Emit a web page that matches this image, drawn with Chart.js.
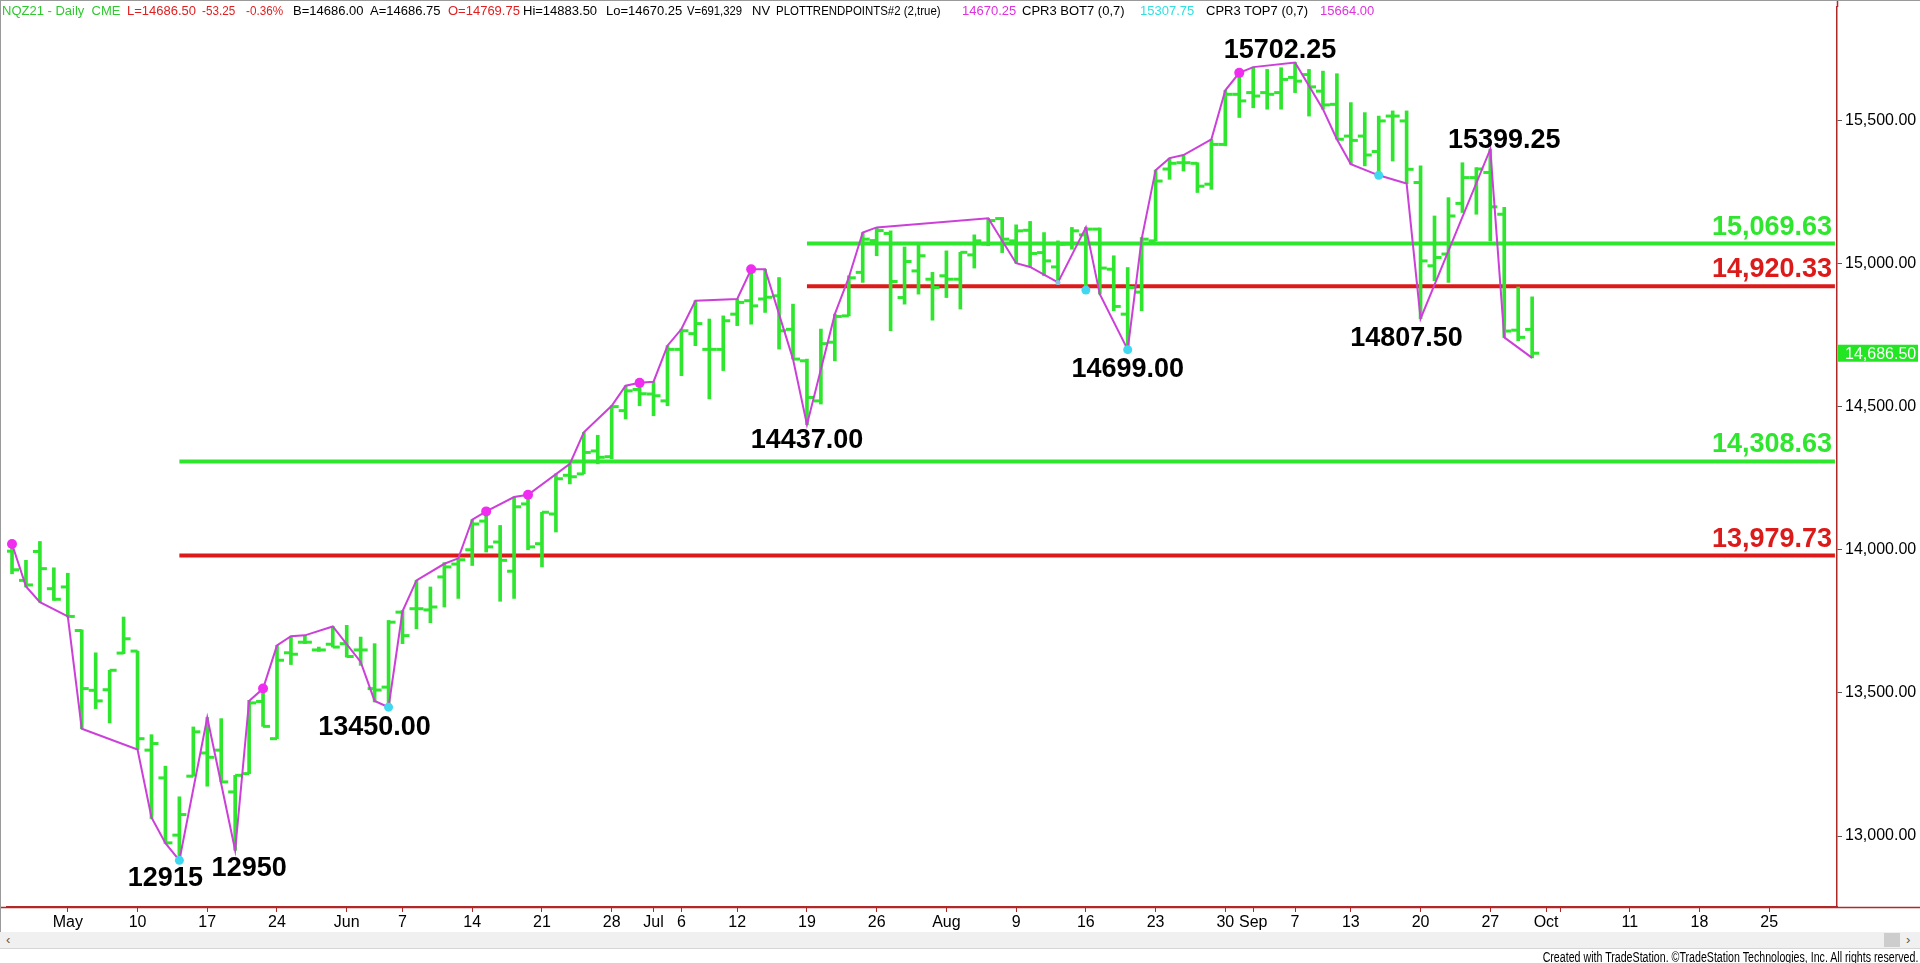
<!DOCTYPE html>
<html>
<head>
<meta charset="utf-8">
<title>NQZ21 Daily</title>
<script src="https://cdn.jsdelivr.net/npm/chart.js@4.4.0/dist/chart.umd.min.js"></script>
<style>
  html, body { margin: 0; padding: 0; background: #fff; }
  #wrap { position: relative; width: 1920px; height: 963px; overflow: hidden; font-family: 'Liberation Sans', Arial, sans-serif; }
  #chart { position: absolute; left: 0; top: 0; }
  .hd { position: absolute; top: 3px; font-size: 13px; line-height: 15px; white-space: nowrap; color: #000; transform-origin: left center; }
  .n1 { transform: scaleX(0.88); } .n2 { transform: scaleX(0.87); } .n3 { transform: scaleX(0.9); }
  .g { color: #2fc92f; } .r { color: #e02020; } .m { color: #e030e0; } .c { color: #30e0e0; }
  #scroll { position: absolute; left: 0; top: 932px; width: 1920px; height: 16px; background: #f0f0f0; border-bottom: 1px solid #d6d6d6; }
  #thumb { position: absolute; left: 1884px; top: 1px; width: 16px; height: 14px; background: #cdcdcd; }
  .arr { position: absolute; top: 0; font-size: 13px; line-height: 16px; color: #555; }
  #foot { position: absolute; right: 2px; top: 950px; font-size: 14px; line-height: 14px; white-space: nowrap; color: #000; transform: scaleX(0.76); transform-origin: right center; }
  #lborder { position: absolute; left: 0; top: 0; width: 1px; height: 948px; background: #9a9a9a; }
  #tborder { position: absolute; left: 0; top: 0; width: 1920px; height: 1px; background: #9a9a9a; }
</style>
</head>
<body>
<div id="wrap">
  <canvas id="chart" width="1920" height="963"></canvas>
  <div id="tborder"></div>
  <div id="lborder"></div>
  <span class="hd g" style="left:2px">NQZ21 - Daily&nbsp; CME</span>
  <span class="hd r" style="left:127px">L=14686.50</span>
  <span class="hd r n3" style="left:202px">-53.25</span>
  <span class="hd r n3" style="left:246px">-0.36%</span>
  <span class="hd" style="left:293px">B=14686.00</span>
  <span class="hd" style="left:370px">A=14686.75</span>
  <span class="hd r" style="left:448px">O=14769.75</span>
  <span class="hd" style="left:523px">Hi=14883.50</span>
  <span class="hd" style="left:606px">Lo=14670.25</span>
  <span class="hd n2" style="left:687px">V=691,329</span>
  <span class="hd" style="left:752px">NV</span>
  <span class="hd n1" style="left:776px">PLOTTRENDPOINTS#2 (2,true)</span>
  <span class="hd m" style="left:962px">14670.25</span>
  <span class="hd" style="left:1022px">CPR3 BOT7 (0,7)</span>
  <span class="hd c" style="left:1140px">15307.75</span>
  <span class="hd" style="left:1206px">CPR3 TOP7 (0,7)</span>
  <span class="hd m" style="left:1320px">15664.00</span>
  <div id="scroll">
    <span class="arr" style="left:6px">&lsaquo;</span>
    <div id="thumb"></div>
    <span class="arr" style="left:1906px">&rsaquo;</span>
  </div>
  <div id="foot">Created with TradeStation. &copy;TradeStation Technologies, Inc. All rights reserved.</div>
</div>
<script>
// trading days shown on the chart (holidays skipped)
const days = [
  'Apr 27','Apr 28','Apr 29','Apr 30',
  'May 3','May 4','May 5','May 6','May 7','May 10','May 11','May 12','May 13','May 14',
  'May 17','May 18','May 19','May 20','May 21','May 24','May 25','May 26','May 27','May 28',
  'Jun 1','Jun 2','Jun 3','Jun 4','Jun 7','Jun 8','Jun 9','Jun 10','Jun 11','Jun 14','Jun 15',
  'Jun 16','Jun 17','Jun 18','Jun 21','Jun 22','Jun 23','Jun 24','Jun 25','Jun 28','Jun 29','Jun 30',
  'Jul 1','Jul 2','Jul 6','Jul 7','Jul 8','Jul 9','Jul 12','Jul 13','Jul 14','Jul 15','Jul 16',
  'Jul 19','Jul 20','Jul 21','Jul 22','Jul 23','Jul 26','Jul 27','Jul 28','Jul 29','Jul 30',
  'Aug 2','Aug 3','Aug 4','Aug 5','Aug 6','Aug 9','Aug 10','Aug 11','Aug 12','Aug 13',
  'Aug 16','Aug 17','Aug 18','Aug 19','Aug 20','Aug 23','Aug 24','Aug 25','Aug 26','Aug 27','Aug 30','Aug 31',
  'Sep 1','Sep 2','Sep 3','Sep 7','Sep 8','Sep 9','Sep 10','Sep 13','Sep 14','Sep 15','Sep 16','Sep 17',
  'Sep 20','Sep 21','Sep 22','Sep 23','Sep 24','Sep 27','Sep 28','Sep 29','Sep 30'
];

const open = [
  13995,13893,13994,13864,13870,13718,13509,13511,13639,13646,13300,13203,13003,13209,
  13290,13300,13154,13218,13470,13340,13640,13677,13650,13670,13672,13650,13515,13520,13782,13794,
  13790,13905,13950,14000,14100,14027,13925,14160,14021,14125,14260,14265,14345,14325,14486,14560,
  14544,14520,14700,14755,14700,14700,14823,14870,14876,14887,14770,14660,14520,14725,14817,14969,
  15080,15105,14881,14974,14945,14957,14945,15030,15068,15157,15079,15116,15038,14988,15068,15100,
  15120,14980,14823,14900,15079,15330,15352,15350,15277,15416,15591,15597,15597,15597,15650,15660,
  15602,15556,15445,15445,15391,15515,15498,15283,14992,15033,15210,15300,15318,15172,14767,14769.75
];
const high = [
  14022,13963,14029,13937,13918,13720,13640,13579,13765,13646,13354,13244,13137,13381,
  13414,13410,13212,13474,13515,13666,13698,13701,13660,13732,13736,13695,13672,13753,13788,13893,
  13870,13955,13970,14105,14134,14085,14184,14192,14131,14265,14300,14410,14400,14503,14573,14583,
  14587,14713,14771,14870,14806,14817,14876,14980,14980,14951,14858,14666,14771,14823,14957,15108,
  15126,15114,15058,15068,14969,15044,15039,15100,15158,15161,15135,15147,15108,15079,15126,15126,
  15124,15027,14986,15091,15326,15368,15379,15352,15434,15605,15666,15686,15678,15684,15702.25,15678,
  15672,15663,15562,15527,15515,15533,15533,15341,15166,15230,15352,15335,15399.25,15196,14918,14883.5
];
const low = [
  13916,13870,13817,13823,13765,13375,13445,13395,13637,13302,13061,12974,12915,13209,
  13174,13189,12950,13218,13383,13340,13599,13672,13645,13660,13625,13596,13468,13450,13672,13724,
  13745,13800,13830,13945,13992,13820,13830,14000,13940,14062,14230,14265,14300,14318,14457,14503,
  14468,14503,14608,14713,14527,14626,14783,14788,14829,14701,14666,14437,14509,14660,14817,14934,
  15027,14765,14858,14893,14802,14881,14841,14984,15062,15038,15001,14988,14957,14932,15050,14907,
  14893,14835,14699,14835,15079,15294,15323,15248,15259,15411,15510,15544,15539,15539,15597,15515,
  15539,15434,15347,15341,15308,15358,15279,14807.5,14940,14934,15178,15172,15079,14742,14730,14670.25
];
const close = [
  13930,13877,13934,13827,13767,13515,13472,13579,13689,13340,13323,12976,13075,13364,
  13275,13189,13212,13465,13383,13614,13635,13677,13650,13660,13627,13650,13510,13747,13700,13794,
  13800,13940,13965,14090,14010,13963,14150,14010,14131,14248,14255,14340,14323,14500,14555,14545,
  14538,14700,14765,14790,14700,14800,14864,14852,14882,14765,14666,14532,14720,14815,14950,15085,
  15115,14937,15007,15027,14916,14945,15039,15079,15150,15085,15114,15035,15009,15067,15114,15120,
  14984,14850,14916,15085,15288,15350,15352,15270,15416,15591,15568,15585,15591,15643,15637,15617,
  15554,15434,15430,15379,15498,15515,15329,15009,15021,15166,15300,15330,15198,14764,14742,14686.5
];

// PLOTTRENDPOINTS line
const trendIdx = [0,1,2,4,5,9,10,11,12,14,16,17,18,19,20,21,23,25,26,27,28,29,31,32,33,34,36,37,40,41,43,44,45,46,47,48,49,52,53,54,56,57,59,60,61,62,70,72,73,75,77,78,80,81,82,83,84,86,87,88,89,92,94,95,96,98,100,101,106,107,109];
const trendVal = [14020,13872,13817,13767,13375,13302,13065,12975,12915,13414,12950,13472,13515,13666,13698,13701,13732,13608,13472,13450,13785,13893,13951,13970,14105,14134,14184,14192,14300,14410,14503,14573,14583,14587,14713,14771,14870,14876,14980,14980,14666,14437,14823,14951,15108,15126,15158,15001,14988,14934,15126,14893,14699,15085,15326,15368,15379,15434,15605,15666,15686,15702.25,15539,15434,15347,15308,15279,14807.5,15399.25,14742,14670.25];

const topDotIdx = [0,18,34,37,45,53,88];
const topDotVal = [14020,13515,14134,14192,14583,14980,15666];
const botDotIdx = [12,27,77,80,98];
const botDotVal = [12915,13450,14907,14699,15308];
const faintDotIdx = [75];
const faintDotVal = [14934];

const levelVal = [15069.63,14920.33,14308.63,13979.73];
const levelFrom = [57,57,12,12];
const levelUp = [true,false,true,false];

const pivotText = ['12915','12950','13450.00','14437.00','14699.00','15702.25','14807.50','15399.25'];
const pivotIdx = [12,16,27,57,80,92,101,106];
const pivotVal = [12915,12950,13450,14437,14699,15702.25,14807.5,15399.25];

const yTicks = [13000,13500,14000,14500,15000,15500];
const xTickPos = [4,9,14,19,24,28,33,38,43,46,48,52,57,62,67,72,77,82,87,89,92,96,101,106,110,111,116,121,126];
const xTickText = ['May','10','17','24','Jun','7','14','21','28','Jul','6','12','19','26','Aug','9','16','23','30','Sep','7','13','20','27','Oct','','11','18','25'];

const yMin = 12752, yMax = 15896;
const xMin = -0.36, xMax = 130.86;

// styling
const BAR_GREEN = '#2fe62f';
const LEVEL_GREEN = '#2fe62f';
const LEVEL_RED = '#dd1a1a';
const TREND = '#cc3fd9';
const AXIS_RED = '#b02828';
const FONT = "'Liberation Sans', Arial, sans-serif";
// label offsets from their pivot (pixels, centre of text)
const pivotDx = [-14, 14, -14, 0, 0, -15, -14, 14];
const pivotDy = [16, 16, 18, 14, 18, -14, 18, -11];

const fmt = v => v.toLocaleString('en-US', {minimumFractionDigits: 2, maximumFractionDigits: 2});

const annotate = {
  id: 'annotate',
  beforeDraw(chart) {
    const ctx = chart.ctx;
    ctx.save();
    ctx.fillStyle = '#fff';
    ctx.fillRect(0, 0, chart.width, chart.height);
    ctx.restore();
  },
  afterDatasetsDraw(chart) {
    const {ctx, chartArea, scales: {x, y}} = chart;
    ctx.save();
    // pivot labels
    ctx.font = 'bold 27px ' + FONT;
    ctx.fillStyle = '#000';
    ctx.textAlign = 'center';
    ctx.textBaseline = 'alphabetic';
    pivotText.forEach((t, k) => {
      const px = x.getPixelForValue(pivotIdx[k]) + pivotDx[k];
      const py = y.getPixelForValue(pivotVal[k]) + pivotDy[k];
      ctx.fillText(t, px, py + 9.7);
    });
    // level labels
    ctx.textAlign = 'right';
    levelVal.forEach((v, k) => {
      ctx.fillStyle = levelUp[k] ? LEVEL_GREEN : LEVEL_RED;
      ctx.fillText(fmt(v), chartArea.right - 5, y.getPixelForValue(v) - 9);
    });
    ctx.restore();
  },
  afterDraw(chart) {
    const {ctx, chartArea, scales: {y}} = chart;
    ctx.save();
    // x axis line runs the full width, under the price scale too
    ctx.strokeStyle = AXIS_RED;
    ctx.lineWidth = 1.5;
    ctx.beginPath();
    ctx.moveTo(0, chartArea.bottom + 0.5);
    ctx.lineTo(chart.width, chartArea.bottom + 0.5);
    ctx.stroke();
    // y axis line up to the top
    ctx.beginPath();
    ctx.moveTo(chartArea.right + 0.5, 0);
    ctx.lineTo(chartArea.right + 0.5, chartArea.top);
    ctx.stroke();
    // last price marker
    const last = close[close.length - 1];
    const py = y.getPixelForValue(last);
    ctx.fillStyle = '#22e622';
    ctx.fillRect(chartArea.right + 1, py - 8.5, 80, 17);
    ctx.fillStyle = '#fff';
    ctx.font = '16px ' + FONT;
    ctx.textAlign = 'left';
    ctx.textBaseline = 'middle';
    ctx.fillText(fmt(last), chartArea.right + 8, py + 1);
    ctx.restore();
  }
};

const pts = (idx, vals, shift) => idx.map((i, k) => ({x: i + (shift || 0), y: vals[k]}));
const allIdx = days.map((d, i) => i);

new Chart(document.getElementById('chart'), {
  type: 'bar',
  data: {
    datasets: [
      {
        type: 'bar', label: 'Range', order: 3,
        data: allIdx.map(i => ({x: i, y: [low[i], high[i]]})),
        backgroundColor: BAR_GREEN, borderWidth: 0, barThickness: 3, grouped: false
      },
      {
        type: 'line', label: 'Open', order: 2, showLine: false,
        data: pts(allIdx, open, -0.25),
        pointStyle: 'line', pointRadius: 3.5, pointBorderWidth: 3, pointBorderColor: BAR_GREEN
      },
      {
        type: 'line', label: 'Close', order: 2, showLine: false,
        data: pts(allIdx, close, 0.25),
        pointStyle: 'line', pointRadius: 3.5, pointBorderWidth: 3, pointBorderColor: BAR_GREEN
      },
      {
        type: 'line', label: 'Trend', order: 1,
        data: pts(trendIdx, trendVal),
        borderColor: TREND, borderWidth: 2, pointRadius: 0, tension: 0
      },
      {
        type: 'line', label: 'Top', order: 0, showLine: false,
        data: pts(topDotIdx, topDotVal),
        pointRadius: 5, pointBackgroundColor: '#f02cf0', pointBorderWidth: 0
      },
      {
        type: 'line', label: 'Bottom', order: 0, showLine: false,
        data: pts(botDotIdx, botDotVal),
        pointRadius: 4.5, pointBackgroundColor: '#3fd8f0', pointBorderWidth: 0
      },
      {
        type: 'line', label: 'Bottom small', order: 0, showLine: false,
        data: pts(faintDotIdx, faintDotVal),
        pointRadius: 2.5, pointBackgroundColor: '#7fc8e8', pointBorderWidth: 0
      },
      ...levelVal.map((v, k) => ({
        type: 'line', label: 'Level ' + k, order: 4,
        data: [{x: levelFrom[k], y: v}, {x: xMax - 0.15, y: v}],
        borderColor: levelUp[k] ? LEVEL_GREEN : LEVEL_RED, borderWidth: 4, pointRadius: 0
      }))
    ]
  },
  options: {
    responsive: false,
    animation: false,
    events: [],
    layout: { padding: { top: 2, left: 0, right: 0, bottom: 0 } },
    plugins: { legend: { display: false }, tooltip: { enabled: false } },
    scales: {
      x: {
        type: 'linear', min: xMin, max: xMax, offset: false,
        afterFit: s => { s.height = 56; s.paddingLeft = 0; s.paddingRight = 0; },
        afterBuildTicks: s => { s.ticks = xTickPos.map(v => ({value: v})); },
        grid: { drawOnChartArea: false, offset: false, tickLength: 5, color: AXIS_RED },
        border: { display: true, color: AXIS_RED, width: 1.5 },
        ticks: {
          autoSkip: false, maxRotation: 0, padding: 1, color: '#000',
          font: { family: FONT, size: 16 },
          callback: v => xTickText[xTickPos.indexOf(v)]
        }
      },
      y: {
        type: 'linear', position: 'right', min: yMin, max: yMax,
        afterFit: s => { s.width = 83; s.paddingTop = 0; s.paddingBottom = 0; },
        afterBuildTicks: s => { s.ticks = yTicks.map(v => ({value: v})); },
        grid: { drawOnChartArea: false, tickLength: 5, color: '#555' },
        border: { display: true, color: AXIS_RED, width: 1.5 },
        ticks: {
          padding: 3, color: '#000',
          font: { family: FONT, size: 16 },
          callback: v => fmt(v)
        }
      }
    }
  },
  plugins: [annotate]
});
</script>
</body>
</html>
